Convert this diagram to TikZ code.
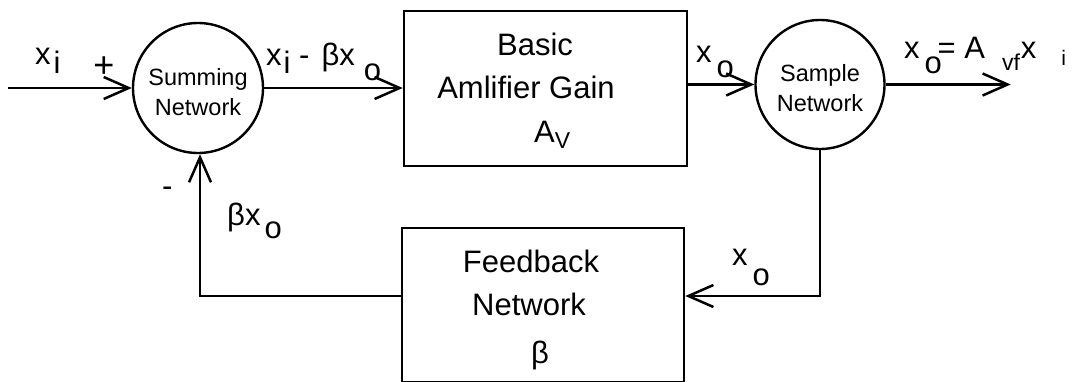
\documentclass[tikz,border=0pt]{standalone}
\usepackage{fontspec}
\setmainfont{Liberation Sans}
\usetikzlibrary{arrows.meta}
\usetikzlibrary{positioning}
\tikzset{
  block/.style={draw, line width=2.6pt, inner sep=0},
  junction/.style={
    draw, circle, line width=2.4pt,
    minimum size=130pt, inner sep=0, text height=55pt,
    align=center, font=\fontsize{23.5}{30}\selectfont
  },
  txt/.style={anchor=base, inner sep=0, font=\fontsize{31}{37}\selectfont},
  wire/.style={line width=2.5pt},
  arrow/.style={-{Straight Barb[length=25pt,width=22pt]}, line width=2.5pt}
}
\newcommand{\lowered}[2]{\raisebox{-#1}{#2}}

\begin{document}
\begin{tikzpicture}[x=1pt, y=-1pt]
  \useasboundingbox (0,0) rectangle (1073,381);
  \clip (0,0) rectangle (1073,381);

  % blocks
  \node[junction] (sum) at (198,88) {Summing\\Network};
  \node[block, minimum width=283pt, minimum height=155pt] (amp) at (545.5,88.5) {};
  \node[junction, minimum size=129pt] (sample) at (820,84.5) {Sample\\Network};
  \node[block, minimum width=282pt, minimum height=154pt] (fb) at (543,305) {};

  % text in the boxes
  \node[txt] (basic) at (535,55) {Basic};
  \node[txt] (gain) at (526,98) {Amlifier Gain};
  \node[txt, anchor=base west] (av) at (534,142) {A\lowered{6pt}{\fontsize{23}{23}\selectfont V}};
  \node[txt] (feedback) at (531,272) {Feedback};
  \node[txt] (network) at (529,315) {Network};
  \node[txt] (beta) at (540,363) {β};

  % signal labels
  \node[txt, anchor=base west] (xin) at (35,64) {x\hspace{3pt}\lowered{9pt}{i}};
  \node[txt, anchor=center, font=\fontsize{36}{40}\selectfont] (plus) at (104,67.5) {+};
  \node[txt, anchor=base west] (xerr) at (266,65) {x\hspace{2pt}\lowered{8pt}{i} -\hspace{12pt}βx\hspace{9pt}\lowered{15pt}{o}};
  \node[txt, anchor=base west] (xamp) at (696,62) {x\hspace{5pt}\lowered{15pt}{o}};
  \node[txt, anchor=base west] (xout) at (904,58) {x\hspace{5pt}\rlap{\lowered{15pt}{o}}\hspace{13pt}= A\hspace{17pt}\lowered{12pt}{\fontsize{23}{23}\selectfont vf}\hspace{1pt}x\hspace{25pt}\lowered{7pt}{\fontsize{21}{21}\selectfont i}};
  \node[txt, anchor=base west] (minus) at (162,196) {-};
  \node[txt, anchor=base west] (xbeta) at (227,225) {βx\hspace{4pt}\lowered{13pt}{o}};
  \node[txt, anchor=base west] (xfb) at (732,265) {x\hspace{5pt}\lowered{20pt}{o}};

  % connectors
  \coordinate (in) at (8,88);
  \coordinate[right=125pt of sample.east] (out);
  \draw[arrow] (in) -- (sum.west);
  \draw[arrow] (sum.east) -- (sum.east -| amp.west);
  \draw[arrow] (sample.west -| amp.east) -- (sample.west);
  \draw[arrow] (sample.east) -- (out);
  \draw[arrow] (sample.south) |- ([yshift=9pt]fb.east);
  \draw[arrow] ([yshift=9pt]fb.west) -| ([xshift=2pt]sum.south);
\end{tikzpicture}
\end{document}
